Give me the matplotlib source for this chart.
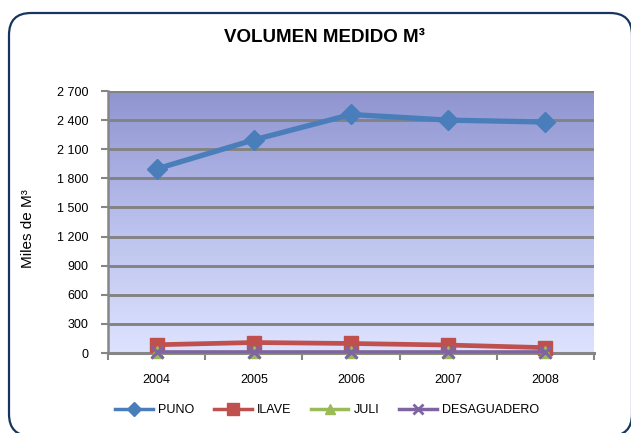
import matplotlib
matplotlib.use("Agg")
import matplotlib.pyplot as plt
import numpy as np
from matplotlib.patches import FancyBboxPatch
from matplotlib.lines import Line2D
from matplotlib.ticker import FuncFormatter, FixedLocator
from matplotlib.colors import LinearSegmentedColormap

plt.rcParams['font.family'] = ['Liberation Sans', 'DejaVu Sans']

years = ["2004", "2005", "2006", "2007", "2008"]
puno = [1897, 2196, 2458, 2400, 2380]
ilave = [85, 108, 98, 82, 55]
juli = [8, 8, 8, 8, 8]
desaguadero = [12, 12, 12, 12, 12]
series_names = ["PUNO", "ILAVE", "JULI", "DESAGUADERO"]
yticks = [0, 300, 600, 900, 1200, 1500, 1800, 2100, 2400, 2700]

W, H = 631, 433
fig = plt.figure(figsize=(W / 100, H / 100), dpi=100)
fig.patch.set_facecolor('white')

ax = fig.add_axes([108 / W, (H - 353) / H, (594 - 108) / W, (353 - 91) / H])

# gradient background
cmap = LinearSegmentedColormap.from_list('bg', ['#dde3fe', '#b9c0ec', '#8f94d0'])
grad = np.linspace(0, 1, 256).reshape(-1, 1)
ax.imshow(grad, extent=[0, 1, 0, 1], transform=ax.transAxes, aspect='auto',
          cmap=cmap, origin='lower', zorder=-1)

x = np.arange(len(years))
colors = ['#4a7ebb', '#c0504d', '#9bbb59', '#8064a2']
ax.plot(x, puno, color=colors[0], lw=3.8, marker='D', ms=10, clip_on=False, zorder=3)
ax.plot(x, ilave, color=colors[1], lw=3.4, marker='s', ms=10, clip_on=False, zorder=4)
ax.plot(x, juli, color=colors[2], lw=2.5, marker='^', ms=9, clip_on=False, zorder=5)
ax.plot(x, desaguadero, color=colors[3], lw=2.6, marker='x', ms=8, mew=2.2,
        clip_on=False, zorder=6)

ax.set_xlim(-0.5, len(years) - 0.5)
ax.set_ylim(0, 2700)
ax.set_yticks(yticks)
ax.yaxis.set_major_formatter(FuncFormatter(lambda v, p: f"{int(v):,}".replace(",", " ")))
ax.set_xticks(x)
ax.set_xticklabels(years)
ax.xaxis.set_minor_locator(FixedLocator(np.arange(-0.5, len(years), 1.0)))
ax.tick_params(axis='x', which='major', length=0, pad=15, labelsize=9)
ax.tick_params(axis='x', which='minor', length=5, width=1.5, color='#868686', direction='out')
ax.tick_params(axis='y', length=5, width=1.5, color='#868686', pad=9, labelsize=9)

ax.yaxis.grid(True, color='#838383', lw=2.1)
ax.set_axisbelow(True)
for s in ['top', 'right']:
    ax.spines[s].set_visible(False)
ax.spines['left'].set_color('#868686')
ax.spines['left'].set_linewidth(1.8)
ax.spines['bottom'].set_color('#868686')
ax.spines['bottom'].set_linewidth(2.2)

fig.text(324 / W, 1 - 37 / H, "VOLUMEN MEDIDO M³", ha='center', va='center',
         fontsize=13.5, fontweight='bold')
fig.text(28 / W, 1 - 229 / H, "Miles de M³", rotation=90, ha='center', va='center',
         fontsize=11)

handles = [
    Line2D([], [], color=colors[0], lw=2.5, marker='D', ms=7),
    Line2D([], [], color=colors[1], lw=2.5, marker='s', ms=8),
    Line2D([], [], color=colors[2], lw=2.5, marker='^', ms=7),
    Line2D([], [], color=colors[3], lw=2.5, marker='x', ms=7, mew=2),
]
fig.legend(handles, series_names, loc='center', bbox_to_anchor=(327 / W, 1 - 410 / H),
           ncol=4, frameon=False, fontsize=9, handlelength=3.0, handletextpad=0.4,
           columnspacing=1.6)

border = FancyBboxPatch((9, -3), 623, H - 13 + 3, boxstyle="round,pad=0,rounding_size=22",
                        transform=None, fill=False, edgecolor='#17365d', lw=1.6,
                        clip_on=False)
fig.patches.append(border)

fig.savefig("out.png", dpi=100)
